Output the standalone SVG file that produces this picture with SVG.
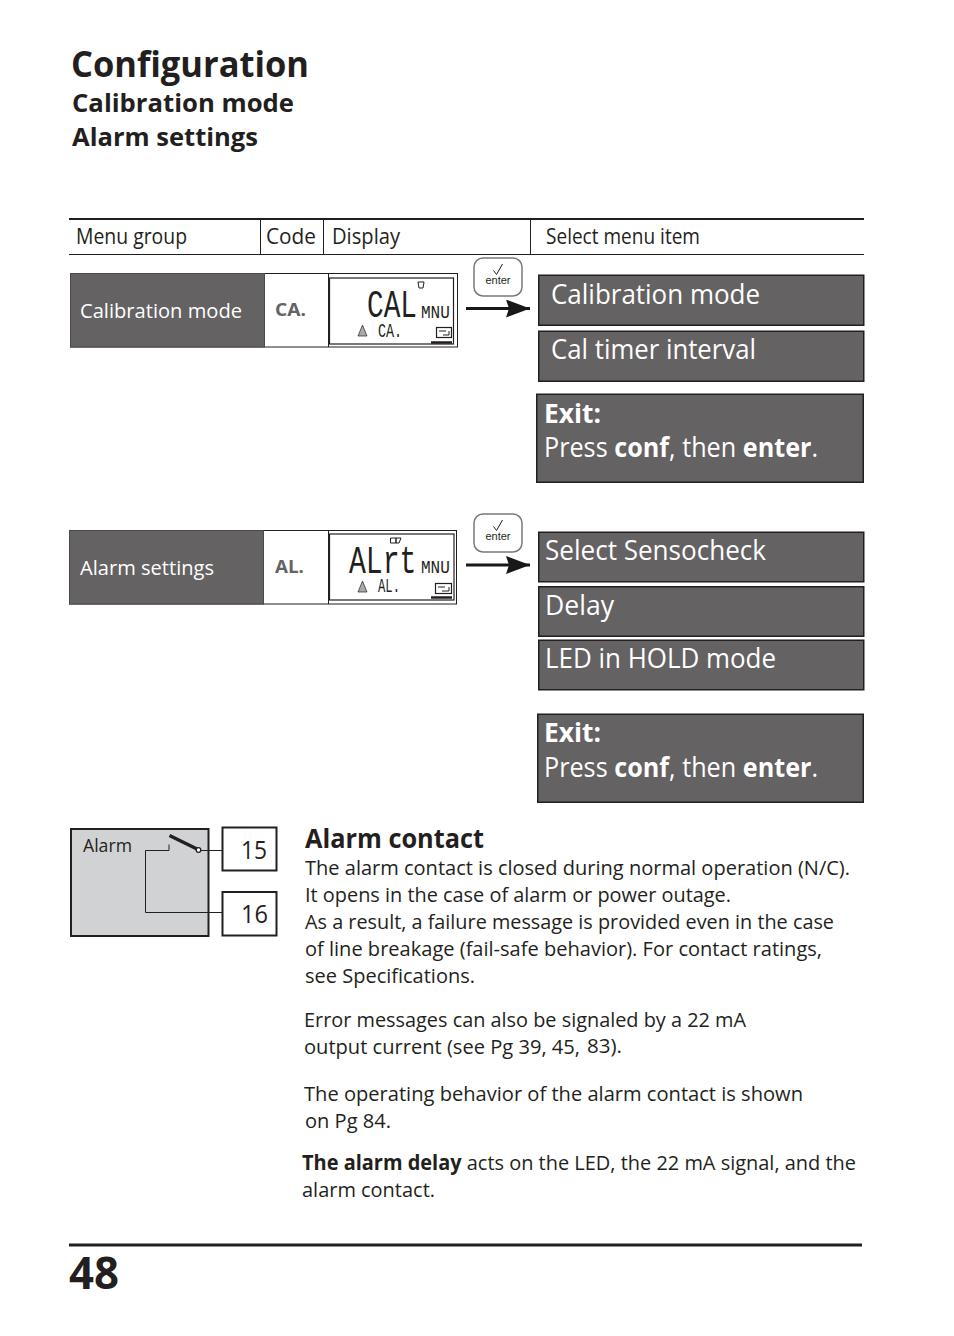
<svg xmlns="http://www.w3.org/2000/svg" width="954" height="1336" viewBox="0 0 954 1336">
<defs>
<marker id="arrow" markerUnits="userSpaceOnUse" markerWidth="24" markerHeight="18" refX="24" refY="9" orient="auto"><path d="M0 0L24 9L0 18L3 9Z" fill="#1a1718"/></marker>
<g id="enterKey"><rect x="0" y="0" width="48" height="38" rx="9" fill="#fff" stroke="#77787a" stroke-width="1.500"/><path d="M19.500 12.500L22.500 16.500L28.500 6" fill="none" stroke="#231f20" stroke-width="1"/><text x="24" y="26" class="enter" text-anchor="middle">enter</text></g>
</defs>
<style>
text{font-family:"Open Sans","Noto Sans","Liberation Sans",sans-serif;fill:#231f20}
.b{font-weight:700}
.hd{font-size:21px}
.box{fill:#646263;stroke:#231f20;stroke-width:1.500}
.big{font-size:27px;fill:#fff}
.big tspan{fill:#fff}
.lab{font-size:20px;fill:#fff}
.code{font-size:17px;font-weight:700;fill:#636466}
.body{font-size:20.500px}
.enter{font-family:"Liberation Sans",Arial,sans-serif;font-size:11px}
.lcd{font-family:"Liberation Mono","Liberation Sans",monospace;fill:#231f20}
.ln{stroke:#231f20;fill:none}
</style>
<rect width="954" height="1336" fill="#fff"/>

<g id="title">
<text x="71" y="77" font-size="35" class="b" textLength="238" lengthAdjust="spacingAndGlyphs">Configuration</text>
<text x="72" y="112" font-size="25.500" class="b" textLength="222" lengthAdjust="spacingAndGlyphs">Calibration mode</text>
<text x="72" y="146" font-size="25.500" class="b" textLength="186" lengthAdjust="spacingAndGlyphs">Alarm settings</text>
</g>

<g id="table-header">
<path class="ln" stroke-width="2" d="M69 219H864"/>
<path class="ln" stroke-width="1" d="M69 254.500H864M260.500 219V254M323.500 219V254M530.500 219V254"/>
<text x="76" y="244" class="hd" textLength="111" lengthAdjust="spacingAndGlyphs">Menu group</text>
<text x="266" y="244" class="hd" textLength="50" lengthAdjust="spacingAndGlyphs">Code</text>
<text x="332" y="244" class="hd" textLength="68" lengthAdjust="spacingAndGlyphs">Display</text>
<text x="546" y="244" class="hd" textLength="154" lengthAdjust="spacingAndGlyphs">Select menu item</text>
</g>

<g id="row-calibration">
<rect x="70.500" y="273.500" width="387" height="73.500" fill="#fff" stroke="#231f20" stroke-width="1"/>
<rect x="70.500" y="273.500" width="194" height="73.500" fill="#646263" stroke="#4a4849"/>
<text x="80" y="318" class="lab" textLength="162" lengthAdjust="spacingAndGlyphs">Calibration mode</text>
<text x="275" y="316" class="code" textLength="31" lengthAdjust="spacingAndGlyphs">CA.</text>
<path class="ln" d="M328.500 274V347"/>
<rect x="329.500" y="278" width="124" height="66" fill="#fff" stroke="#231f20" stroke-width="1.200"/>
<text transform="translate(367 317) scale(.73 1)" class="lcd" font-size="38">CAL</text>
<text transform="translate(421 318) scale(.89 1)" class="lcd" font-size="18">MNU</text>
<text transform="translate(378 337) scale(.67 1)" class="lcd" font-size="20">CA.</text>
<path d="M358 336L362.500 325L367 336Z" fill="#a7a9ac" stroke="#231f20" stroke-width=".7"/>
<rect x="436.500" y="327.500" width="15" height="10" fill="#fff" stroke="#231f20" stroke-width="1.200"/>
<path class="ln" d="M439 331H446M443 335H449V331"/>
<path d="M431 342.500H452" stroke="#231f20" stroke-width="2.500"/>
<path class="ln" d="M418 282H424L423 288H419Z"/>
</g>
<use id="enter-1" href="#enterKey" x="474" y="258"/>

<g id="row-alarm">
<rect x="69.500" y="530.500" width="387" height="73.500" fill="#fff" stroke="#231f20" stroke-width="1"/>
<rect x="69.500" y="530.500" width="194" height="73.500" fill="#646263" stroke="#4a4849"/>
<text x="80" y="575" class="lab" textLength="134" lengthAdjust="spacingAndGlyphs">Alarm settings</text>
<text x="275" y="573" class="code" textLength="29" lengthAdjust="spacingAndGlyphs">AL.</text>
<path class="ln" d="M328.500 531V604"/>
<rect x="329.500" y="534" width="124.500" height="66" fill="#fff" stroke="#231f20" stroke-width="1.200"/>
<text transform="translate(349 573) scale(.74 1)" class="lcd" font-size="38">ALrt</text>
<text transform="translate(421 573) scale(.89 1)" class="lcd" font-size="18">MNU</text>
<text transform="translate(378 592) scale(.61 1)" class="lcd" font-size="20">AL.</text>
<path d="M358 592L362.500 581L367 592Z" fill="#a7a9ac" stroke="#231f20" stroke-width=".7"/>
<rect x="435.500" y="583.500" width="16" height="10" fill="#fff" stroke="#231f20" stroke-width="1.200"/>
<path class="ln" d="M438 587H445M442 591H449V587"/>
<path d="M431 597.500H452" stroke="#231f20" stroke-width="2.500"/>
<path class="ln" d="M390.500 538H396V543H390.500ZM396 538H401L399 543H396Z"/>
</g>
<use id="enter-2" href="#enterKey" x="474" y="514"/>

<g id="connectors">
<path d="M466 308.500H530" stroke="#1a1718" stroke-width="3" marker-end="url(#arrow)"/>
<path d="M466 565H530" stroke="#1a1718" stroke-width="3" marker-end="url(#arrow)"/>
</g>

<g id="item-cal-mode"><rect class="box" x="538.750" y="275.250" width="325" height="50"/><text x="551" y="304" class="big" textLength="209" lengthAdjust="spacingAndGlyphs">Calibration mode</text></g>
<g id="item-cal-timer"><rect class="box" x="538.750" y="331.250" width="325" height="50"/><text x="551" y="359" class="big" textLength="205" lengthAdjust="spacingAndGlyphs">Cal timer interval</text></g>
<g id="item-exit-1"><rect class="box" x="536.750" y="394.250" width="326.500" height="88"/>
<text x="544" y="423" class="big b" textLength="57" lengthAdjust="spacingAndGlyphs">Exit:</text>
<text transform="translate(544 457) scale(.934 1)" class="big">Press <tspan class="b">conf</tspan>, then <tspan class="b">enter</tspan>.</text></g>

<g id="item-sensocheck"><rect class="box" x="538.750" y="532.250" width="325" height="49.500"/><text x="545" y="560" class="big" textLength="221" lengthAdjust="spacingAndGlyphs">Select Sensocheck</text></g>
<g id="item-delay"><rect class="box" x="538.750" y="586.750" width="325" height="49.500"/><text x="545" y="615" class="big" textLength="69" lengthAdjust="spacingAndGlyphs">Delay</text></g>
<g id="item-led"><rect class="box" x="538.750" y="640.250" width="325" height="49.500"/><text x="545" y="668" class="big" textLength="231" lengthAdjust="spacingAndGlyphs">LED in HOLD mode</text></g>
<g id="item-exit-2"><rect class="box" x="537.750" y="714.250" width="325.500" height="88"/>
<text x="544" y="742" class="big b" textLength="57" lengthAdjust="spacingAndGlyphs">Exit:</text>
<text transform="translate(544 777) scale(.934 1)" class="big">Press <tspan class="b">conf</tspan>, then <tspan class="b">enter</tspan>.</text></g>

<g id="alarm-diagram">
<rect x="71" y="829" width="137.500" height="107" fill="#d1d2d3" stroke="#231f20" stroke-width="2"/>
<text x="83" y="852" font-size="18.500" textLength="49" lengthAdjust="spacingAndGlyphs">Alarm</text>
<rect x="222.500" y="827.500" width="54" height="43" fill="#fff" stroke="#231f20" stroke-width="2"/>
<rect x="222.500" y="892" width="54" height="43.500" fill="#fff" stroke="#231f20" stroke-width="2"/>
<text x="241" y="859" font-size="26" textLength="26" lengthAdjust="spacingAndGlyphs">15</text>
<text x="241" y="923" font-size="26" textLength="27" lengthAdjust="spacingAndGlyphs">16</text>
<path class="ln" stroke-width="1" d="M169 844.500V850.500H145.500V912.500H222M201 850.500H222"/>
<path d="M169.500 835.500L197 849" stroke="#231f20" stroke-width="3.500"/>
<circle cx="198.500" cy="850" r="2.300" fill="#fff" stroke="#231f20" stroke-width="1.300"/>
</g>

<g id="alarm-text">
<text x="305" y="848" font-size="27" class="b" textLength="179" lengthAdjust="spacingAndGlyphs">Alarm contact</text>
<text x="305" y="875" class="body" textLength="545" lengthAdjust="spacingAndGlyphs">The alarm contact is closed during normal operation (N/C).</text>
<text x="305" y="902" class="body" textLength="426" lengthAdjust="spacingAndGlyphs">It opens in the case of alarm or power outage.</text>
<text x="305" y="929" class="body" textLength="529" lengthAdjust="spacingAndGlyphs">As a result, a failure message is provided even in the case</text>
<text x="305" y="956" class="body" textLength="517" lengthAdjust="spacingAndGlyphs">of line breakage (fail-safe behavior). For contact ratings,</text>
<text x="305" y="983" class="body" textLength="170" lengthAdjust="spacingAndGlyphs">see Specifications.</text>
<text x="304" y="1027" class="body" textLength="442" lengthAdjust="spacingAndGlyphs">Error messages can also be signaled by a 22 mA</text>
<text x="304" y="1054" class="body" textLength="276" lengthAdjust="spacingAndGlyphs">output current (see Pg 39, 45,</text>
<text x="587" y="1053" font-size="20" textLength="35" lengthAdjust="spacingAndGlyphs">83).</text>
<text x="304" y="1101" class="body" textLength="499" lengthAdjust="spacingAndGlyphs">The operating behavior of the alarm contact is shown</text>
<text x="305" y="1128" class="body" textLength="86" lengthAdjust="spacingAndGlyphs">on Pg 84.</text>
<text transform="translate(302 1170) scale(.974 1)" class="body"><tspan class="b">The alarm delay</tspan> acts on the LED, the 22 mA signal, and the</text>
<text x="302" y="1197" class="body" textLength="133" lengthAdjust="spacingAndGlyphs">alarm contact.</text>
</g>

<g id="footer">
<path d="M69 1245H862" stroke="#231f20" stroke-width="3"/>
<text x="69" y="1289" font-size="44" class="b" textLength="50" lengthAdjust="spacingAndGlyphs">48</text>
</g>
</svg>
